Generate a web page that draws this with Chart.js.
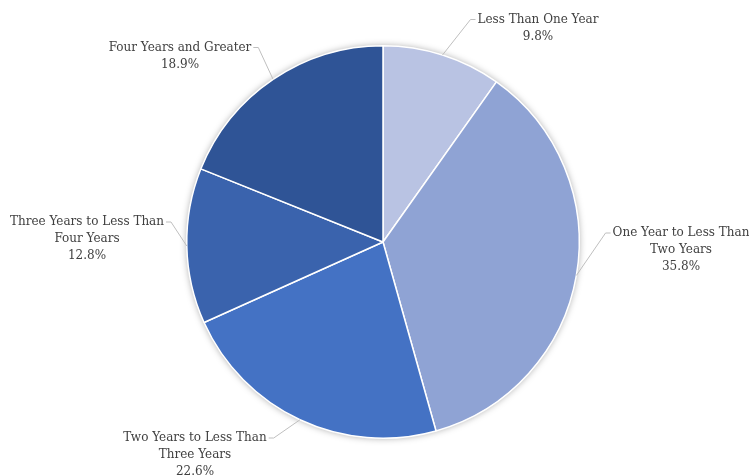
<!DOCTYPE html>
<html>
<head>
<meta charset="utf-8">
<script src="https://cdn.jsdelivr.net/npm/chart.js@4.4.1/dist/chart.umd.min.js"></script>
<style>
    html, body { margin: 0; padding: 0; background: #fff; }
    #wrap { width: 749px; height: 476px; position: relative; }
</style>
</head>
<body>
<div id="wrap"><canvas id="tenureChart"></canvas></div>
<script>
// Categories and shares (%)
const categories = [
    ['Less Than One Year'],
    ['One Year to Less Than', 'Two Years'],
    ['Two Years to Less Than', 'Three Years'],
    ['Three Years to Less Than', 'Four Years'],
    ['Four Years and Greater']
];
const shares = [9.8, 35.8, 22.6, 12.8, 18.9];
const sliceColors = ['#B9C3E3', '#8FA3D4', '#4472C4', '#3A63AD', '#2F5496'];

// label block centres, relative to the pie centre (px)
const labelOffsets = [[155, -214], [298, 8], [-188, 213], [-296, -3], [-203, -186]];
const lineHeight = 17;
const labelFont = '12px "DejaVu Serif"';

// soft glow behind the pie
const pieShadow = {
    id: 'pieShadow',
    beforeDatasetsDraw(chart) {
        const arc = chart.getDatasetMeta(0).data[0];
        if (!arc) return;
        const ctx = chart.ctx;
        ctx.save();
        ctx.shadowColor = 'rgba(0,0,0,0.35)';
        ctx.shadowBlur = 7;
        ctx.fillStyle = '#fff';
        ctx.beginPath();
        ctx.arc(arc.x, arc.y, arc.outerRadius, 0, Math.PI * 2);
        ctx.fill();
        ctx.restore();
    }
};

// data labels with leader lines
const leaderLabels = {
    id: 'leaderLabels',
    afterDatasetsDraw(chart) {
        const ctx = chart.ctx;
        const arcs = chart.getDatasetMeta(0).data;
        ctx.save();
        ctx.font = labelFont;
        ctx.textAlign = 'center';
        ctx.textBaseline = 'middle';
        arcs.forEach((arc, i) => {
            const lines = categories[i].concat([shares[i].toFixed(1) + '%']);
            const cx = arc.x + labelOffsets[i][0];
            const cy = arc.y + labelOffsets[i][1];
            const top = cy - (lines.length - 1) * lineHeight / 2;

            // leader line: from slice edge to first text line
            const mid = (arc.startAngle + arc.endAngle) / 2;
            const ex = arc.x + Math.cos(mid) * arc.outerRadius;
            const ey = arc.y + Math.sin(mid) * arc.outerRadius;
            const w = ctx.measureText(lines[0]).width;
            const right = cx > arc.x;
            const tx = right ? cx - w / 2 - 2 : cx + w / 2 + 2;
            const elbow = right ? tx - 5 : tx + 5;
            ctx.strokeStyle = '#BFBFBF';
            ctx.lineWidth = 1;
            ctx.beginPath();
            ctx.moveTo(ex, ey);
            ctx.lineTo(elbow, top);
            ctx.lineTo(tx, top);
            ctx.stroke();

            ctx.fillStyle = '#404040';
            lines.forEach((t, k) => ctx.fillText(t, cx, top + k * lineHeight));
        });
        ctx.restore();
    }
};

const ctx = document.getElementById('tenureChart').getContext('2d');
new Chart(ctx, {
    type: 'pie',
    data: {
        labels: categories.map(c => c.join(' ')),
        datasets: [{
            data: shares,
            backgroundColor: sliceColors,
            borderColor: '#FFFFFF',
            borderWidth: 1.5
        }]
    },
    options: {
        responsive: true,
        maintainAspectRatio: false,
        animation: false,
        layout: {
            padding: { left: 186, right: 169, top: 45, bottom: 37 }
        },
        plugins: {
            legend: { display: false },
            tooltip: { enabled: false }
        }
    },
    plugins: [pieShadow, leaderLabels]
});
</script>
</body>
</html>
